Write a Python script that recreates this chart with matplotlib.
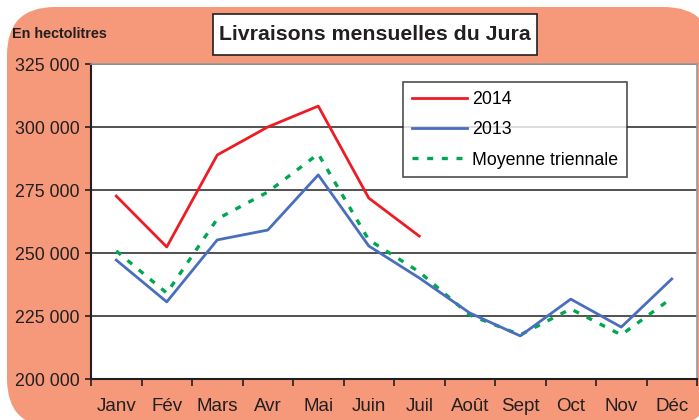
import matplotlib
matplotlib.use("Agg")
import matplotlib.pyplot as plt
from matplotlib.patches import FancyBboxPatch, Rectangle
from matplotlib.ticker import FuncFormatter, MultipleLocator

mois = ["Janv", "Fév", "Mars", "Avr", "Mai", "Juin", "Juil", "Août", "Sept", "Oct", "Nov", "Déc"]
v2014 = [272600, 252400, 288900, 300000, 308300, 271800, 256700]
v2013 = [247200, 230600, 255200, 259100, 281000, 252800, 240100, 226200, 217100, 231700, 220600, 239700]
moyenne = [250800, 234100, 263500, 274200, 289300, 255200, 242500, 225400, 217500, 227800, 217500, 232100]

plt.rcParams['font.family'] = ['Liberation Sans', 'DejaVu Sans']

fig = plt.figure(figsize=(6.99, 4.2), dpi=100)
W, H = 699, 420

# background layer in pixel coords (y down)
bg = fig.add_axes([0, 0, 1, 1], zorder=-5)
bg.set_xlim(0, W)
bg.set_ylim(H, 0)
bg.axis("off")
bg.add_patch(FancyBboxPatch((7, 7), 705, 420, boxstyle="round,pad=0,rounding_size=48",
                            facecolor="#F5997A", edgecolor="none"))
bg.add_patch(Rectangle((213, 14), 324, 41, facecolor="white", edgecolor="#231F20", lw=1.2))
bg.text(375, 34, "Livraisons mensuelles du Jura", ha="center", va="center",
        fontsize=15.3, fontweight="bold", color="#231F20")
bg.text(12, 34, "En hectolitres", ha="left", va="center",
        fontsize=10.4, fontweight="bold", color="#231F20")

ax = fig.add_axes([91 / W, (H - 379) / H, (697 - 91) / W, (379 - 64) / H])
ax.set_facecolor("white")

x = list(range(len(mois)))
ax.plot(x[:len(v2014)], v2014, color="#ED1C24", lw=2.0, label="2014", zorder=4)
ax.plot(x, v2013, color="#4A6EBE", lw=2.0, label="2013", zorder=3)
ax.plot(x, moyenne, color="#00A651", lw=2.4, dashes=(1.8, 2.6), label="Moyenne triennale", zorder=2)

ax.set_xlim(-0.5, 11.5)
ax.set_ylim(200000, 325000)
ax.yaxis.set_major_locator(MultipleLocator(25000))
ax.yaxis.set_major_formatter(FuncFormatter(lambda v, p: f"{int(v):,}".replace(",", " ")))
ax.grid(axis="y", color="#333333", lw=1.2)
ax.set_axisbelow(True)

ax.set_xticks(x)
ax.set_xticklabels(mois)
ax.set_xticks([i - 0.5 for i in range(13)], minor=True)
ax.tick_params(axis="x", which="major", length=0, pad=14, labelsize=13.5, colors="#231F20")
ax.tick_params(axis="x", which="minor", length=5, width=1.2, color="#231F20")
ax.tick_params(axis="y", length=4, width=1.2, labelsize=12.8, colors="#231F20", pad=4)

for s in ["top", "right"]:
    ax.spines[s].set_color("#999999")
    ax.spines[s].set_linewidth(1.2)
for s in ["left", "bottom"]:
    ax.spines[s].set_color("#231F20")
    ax.spines[s].set_linewidth(1.5)

leg = ax.legend(loc="upper left", bbox_to_anchor=((403 - 91) / 606, (379 - 82) / 315),
                frameon=True, fancybox=False, edgecolor="#231F20", fontsize=12.8,
                handlelength=3.1, handletextpad=0.3, labelspacing=0.75, borderpad=0.5,
                borderaxespad=0)
leg.get_frame().set_linewidth(1.2)

fig.savefig("out.png", dpi=100, facecolor="white")
